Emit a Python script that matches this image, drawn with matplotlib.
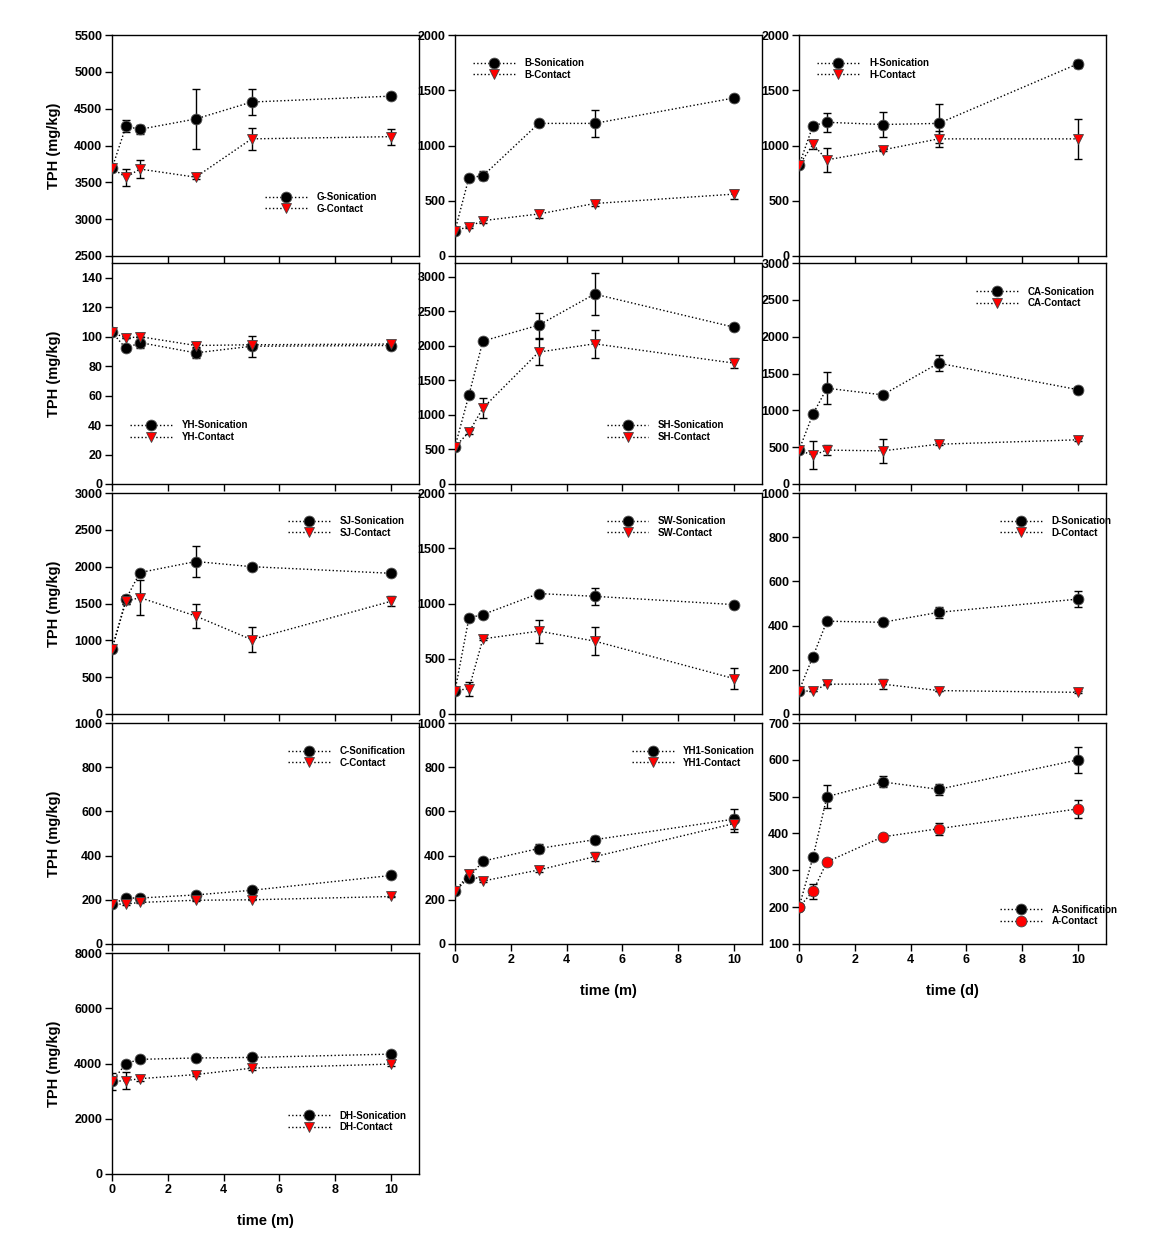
import matplotlib
matplotlib.use("Agg")
import matplotlib.pyplot as plt

plt.rcParams['font.family'] = ['Liberation Sans', 'DejaVu Sans']
plt.rcParams['font.weight'] = 'bold'

time = [0, 0.5, 1, 3, 5, 10]

G_son = [3690, 4260, 4220, 4360, 4590, 4670]
G_son_err = [0, 80, 60, 410, 180, 20]
G_con = [3690, 3570, 3680, 3570, 4090, 4120]
G_con_err = [0, 115, 125, 20, 145, 110]

B_son = [230, 710, 725, 1200, 1200, 1430]
B_son_err = [0, 20, 40, 15, 125, 30]
B_con = [230, 265, 320, 380, 475, 560]
B_con_err = [0, 10, 20, 35, 20, 40]

H_son = [820, 1180, 1210, 1190, 1200, 1740]
H_son_err = [0, 20, 88, 115, 175, 35]
H_con = [820, 1010, 870, 960, 1060, 1060]
H_con_err = [0, 40, 110, 10, 70, 180]

YH_son = [103, 92, 96, 89, 93.5, 94]
YH_son_err = [0, 0, 4, 3.3, 7, 0]
YH_con = [103, 99, 100, 94, 94.5, 95]
YH_con_err = [0, 0, 0, 1, 0, 0]

SH_son = [540, 1290, 2070, 2300, 2750, 2270]
SH_son_err = [0, 20, 20, 180, 300, 20]
SH_con = [540, 750, 1100, 1910, 2030, 1750]
SH_con_err = [0, 30, 150, 190, 200, 75]

CA_son = [460, 950, 1300, 1210, 1640, 1280]
CA_son_err = [0, 20, 215, 20, 110, 40]
CA_con = [460, 390, 460, 450, 540, 600]
CA_con_err = [0, 190, 70, 160, 10, 20]

SJ_son = [880, 1560, 1920, 2070, 2000, 1910]
SJ_son_err = [0, 60, 20, 210, 10, 10]
SJ_con = [880, 1530, 1580, 1330, 1010, 1530]
SJ_con_err = [0, 40, 235, 165, 175, 70]

SW_son = [210, 870, 900, 1090, 1065, 990]
SW_son_err = [0, 30, 10, 10, 75, 10]
SW_con = [210, 230, 680, 750, 660, 320]
SW_con_err = [0, 63, 10, 103, 127, 94]

D_son = [105, 260, 420, 415, 460, 520]
D_son_err = [0, 5, 5, 5, 26, 36]
D_con = [105, 103, 135, 135, 106, 98]
D_con_err = [0, 0, 0, 23, 0, 5]

C_son = [180, 208, 208, 222, 243, 310]
C_son_err = [0, 5, 5, 5, 5, 5]
C_con = [180, 181, 188, 198, 200, 215]
C_con_err = [0, 3, 3, 3, 3, 3]

YH1_son = [240, 300, 375, 432, 472, 565]
YH1_son_err = [0, 15, 10, 22, 17, 45]
YH1_con = [240, 315, 285, 335, 395, 545]
YH1_con_err = [0, 20, 5, 8, 20, 40]

A_son = [200, 335, 500, 540, 520, 600]
A_son_err = [0, 5, 32, 15, 15, 35]
A_con = [200, 243, 323, 391, 413, 467]
A_con_err = [0, 20, 5, 5, 16, 25]

DH_son = [3350, 4000, 4150, 4200, 4220, 4340]
DH_son_err = [0, 80, 60, 60, 60, 60]
DH_con = [3350, 3380, 3450, 3600, 3830, 3980]
DH_con_err = [300, 300, 80, 60, 60, 60]

son_labels = ['G-Sonication', 'B-Sonication', 'H-Sonication', 'YH-Sonication', 'SH-Sonication',
              'CA-Sonication', 'SJ-Sonication', 'SW-Sonication', 'D-Sonication', 'C-Sonification',
              'YH1-Sonication', 'A-Sonification', 'DH-Sonication']
con_labels = ['G-Contact', 'B-Contact', 'H-Contact', 'YH-Contact', 'SH-Contact', 'CA-Contact',
              'SJ-Contact', 'SW-Contact', 'D-Contact', 'C-Contact', 'YH1-Contact', 'A-Contact',
              'DH-Contact']

son_all = [G_son, B_son, H_son, YH_son, SH_son, CA_son, SJ_son, SW_son, D_son, C_son, YH1_son, A_son, DH_son]
son_err_all = [G_son_err, B_son_err, H_son_err, YH_son_err, SH_son_err, CA_son_err, SJ_son_err,
               SW_son_err, D_son_err, C_son_err, YH1_son_err, A_son_err, DH_son_err]
con_all = [G_con, B_con, H_con, YH_con, SH_con, CA_con, SJ_con, SW_con, D_con, C_con, YH1_con, A_con, DH_con]
con_err_all = [G_con_err, B_con_err, H_con_err, YH_con_err, SH_con_err, CA_con_err, SJ_con_err,
               SW_con_err, D_con_err, C_con_err, YH1_con_err, A_con_err, DH_con_err]

# layout (pixels)
W, H = 1164, 1259
col_left = [112, 455, 799]
row_top = [35, 263, 493, 723, 953]
aw, ah = 307, 221

# per panel: (row, col, ylim, ytick step, ytick max, legend x, legend y, contact marker, xlabel)
panel_cfg = [
    (0, 0, (2500, 5500), 500, 5500, 0.498, 0.24, 'v', None),
    (0, 1, (0, 2000), 500, 2000, 0.058, 0.846, 'v', None),
    (0, 2, (0, 2000), 500, 2000, 0.060, 0.846, 'v', None),
    (1, 0, (0, 150), 20, 140, 0.059, 0.239, 'v', None),
    (1, 1, (0, 3200), 500, 3000, 0.494, 0.239, 'v', None),
    (1, 2, (0, 3000), 500, 3000, 0.577, 0.845, 'v', None),
    (2, 0, (0, 3000), 500, 3000, 0.574, 0.846, 'v', None),
    (2, 1, (0, 2000), 500, 2000, 0.494, 0.846, 'v', None),
    (2, 2, (0, 1000), 200, 1000, 0.655, 0.846, 'v', None),
    (3, 0, (0, 1000), 200, 1000, 0.574, 0.846, 'v', None),
    (3, 1, (0, 1000), 200, 1000, 0.576, 0.846, 'v', 'time (m)'),
    (3, 2, (100, 700), 100, 700, 0.655, 0.13, 'o', 'time (d)'),
    (4, 0, (0, 8000), 2000, 8000, 0.574, 0.238, 'v', 'time (m)'),
]

fig = plt.figure(figsize=(W / 100, H / 100), dpi=100)

for i, cfg in enumerate(panel_cfg):
    r, c, ylim, step, ymaxt, lx, ly, cmk, xlab = cfg
    left = col_left[c] / W
    bottom = 1 - (row_top[r] + ah) / H
    ax = fig.add_axes([left, bottom, aw / W, ah / H])

    ax.errorbar(time, son_all[i], yerr=son_err_all[i], fmt='none', ecolor='black',
                elinewidth=1, capsize=3.2, capthick=1, zorder=2)
    ax.errorbar(time, con_all[i], yerr=con_err_all[i], fmt='none', ecolor='black',
                elinewidth=1, capsize=3.2, capthick=1, zorder=2)
    ax.plot(time, son_all[i], linestyle=':', color='black', linewidth=1, marker='o',
            markersize=7.8, markerfacecolor='black', markeredgecolor='#555555',
            markeredgewidth=0.6, label=son_labels[i], zorder=3)
    ax.plot(time, con_all[i], linestyle=':', color='black', linewidth=1, marker=cmk,
            markersize=7.8, markerfacecolor='#ff0000',
            markeredgecolor='#444444', markeredgewidth=0.6, label=con_labels[i], zorder=4)

    ax.set_xlim(0, 11)
    ax.set_ylim(*ylim)
    ax.set_xticks([0, 2, 4, 6, 8, 10])
    yt = list(range(int(ylim[0]), int(ymaxt) + 1, step))
    ax.set_yticks(yt)
    ax.tick_params(direction='out', length=5, width=1, labelsize=9, pad=2)
    for lbl in ax.get_yticklabels():
        lbl.set_fontweight('bold')
    if xlab is None:
        ax.set_xticklabels([])
    else:
        for lbl in ax.get_xticklabels():
            lbl.set_fontweight('bold')
        ax.set_xlabel(xlab, fontsize=10.5, fontweight='bold')
        ax.xaxis.set_label_coords(0.5, -0.183)
    if c == 0:
        ax.set_ylabel('TPH (mg/kg)', fontsize=10.5, fontweight='bold')
        ax.yaxis.set_label_coords(-0.165, 0.5)
    for sp in ax.spines.values():
        sp.set_linewidth(1)

    leg = ax.legend(loc='center left', bbox_to_anchor=(lx, ly), frameon=False,
                    fontsize=7, handlelength=4.3, handletextpad=1.0, labelspacing=0.15,
                    borderpad=0, borderaxespad=0, numpoints=1)
    for t in leg.get_texts():
        t.set_fontweight('bold')

fig.savefig('out.png', dpi=100)
